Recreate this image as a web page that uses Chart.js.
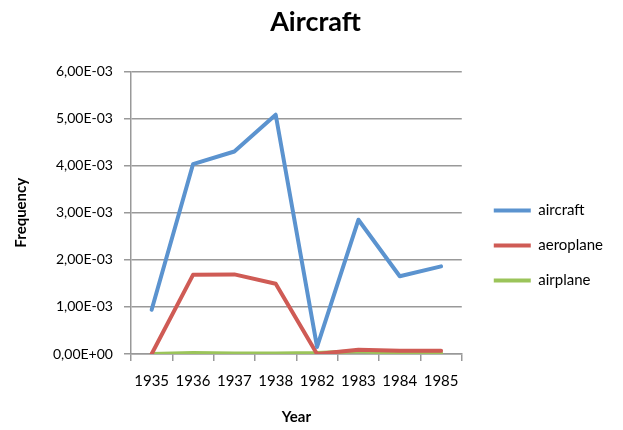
<!DOCTYPE html>
<html>
<head>
<meta charset="utf-8">
<script src="https://cdn.jsdelivr.net/npm/chart.js@4/dist/chart.umd.min.js"></script>
<style>
  html, body { margin: 0; padding: 0; background: #fff; }
  #wrap { width: 623px; height: 430px; }
</style>
</head>
<body>
<div id="wrap"><canvas id="chart" width="623" height="430"></canvas></div>
<script>
const years = ['1935', '1936', '1937', '1938', '1982', '1983', '1984', '1985']
const aircraft = [0.00094, 0.00403, 0.0043, 0.00508, 0.00015, 0.00285, 0.00165, 0.00186]
const aeroplane = [0.0, 0.00168, 0.00169, 0.00149, 0.0, 0.00009, 0.00007, 0.00007]
const airplane = [0.0, 0.00002, 0.00001, 0.00001, 0.00002, 0.00006, 0.00002, 0.00002]

// excel style: 6,00E-03
function sciComma(v) {
  if (v === 0) return '0,00E+00'
  const exp = Math.floor(Math.log10(Math.abs(v)) + 1e-9)
  const mant = (v / Math.pow(10, exp)).toFixed(2).replace('.', ',')
  const sign = exp < 0 ? '-' : '+'
  return mant + 'E' + sign + String(Math.abs(exp)).padStart(2, '0')
}

const font = 'Lato, "Liberation Sans", sans-serif'

// leave a wider gap between plot and legend, like excel does
const legendGap = {
  id: 'legendGap',
  beforeLayout(chart) {
    const lg = chart.legend
    if (lg && !lg._wider) {
      const fit = lg.fit.bind(lg)
      lg.fit = function () { fit(); this.width += 22 }
      lg._wider = true
    }
  },
  afterLayout(chart) {
    if (chart.legend) chart.legend.left += 12
  }
}

const ctx = document.getElementById('chart').getContext('2d')
new Chart(ctx, {
  type: 'line',
  data: {
    labels: years,
    datasets: [
      { label: 'aircraft', data: aircraft, borderColor: '#5b93cf', backgroundColor: '#5b93cf', borderWidth: 4 },
      { label: 'aeroplane', data: aeroplane, borderColor: '#cf5b55', backgroundColor: '#cf5b55', borderWidth: 4 },
      { label: 'airplane', data: airplane, borderColor: '#9bc45a', backgroundColor: '#9bc45a', borderWidth: 4 }
    ]
  },
  plugins: [legendGap],
  options: {
    responsive: false,
    animation: false,
    layout: { padding: { left: 8, right: 0, top: 4, bottom: 0 } },
    elements: {
      line: { tension: 0, borderCapStyle: 'round', borderJoinStyle: 'round' },
      point: { radius: 0 }
    },
    plugins: {
      title: {
        display: true,
        text: 'Aircraft',
        color: '#000',
        font: { family: font, size: 27, weight: 'bold' },
        padding: { top: 2, bottom: 33 }
      },
      legend: {
        position: 'right',
        title: { display: true, text: ' ', font: { size: 10 }, padding: { top: 45, bottom: 0 } },
        labels: {
          usePointStyle: true,
          pointStyle: 'line',
          pointStyleWidth: 37,
          color: '#000',
          font: { family: font, size: 15 },
          padding: 20
        }
      },
      tooltip: { enabled: false }
    },
    scales: {
      x: {
        offset: true,
        grid: { display: true, drawOnChartArea: false, offset: true, color: '#999', tickLength: 7, lineWidth: 1.5 },
        border: { color: '#999', width: 1.5 },
        ticks: { color: '#000', font: { family: font, size: 15 }, maxRotation: 0, padding: 11 },
        title: { display: true, text: 'Year', color: '#000', font: { family: font, size: 15, weight: 'bold' }, padding: { top: 7 } }
      },
      y: {
        min: 0,
        max: 0.006,
        ticks: { stepSize: 0.001, color: '#000', font: { family: font, size: 14 }, callback: v => sciComma(v), padding: 11 },
        grid: { color: '#999', lineWidth: 1.5, tickLength: 7 },
        border: { color: '#999', width: 1.5 },
        title: { display: true, text: 'Frequency', color: '#000', font: { family: font, size: 15, weight: 'bold' }, padding: { bottom: 12 } }
      }
    }
  }
})
</script>
</body>
</html>
